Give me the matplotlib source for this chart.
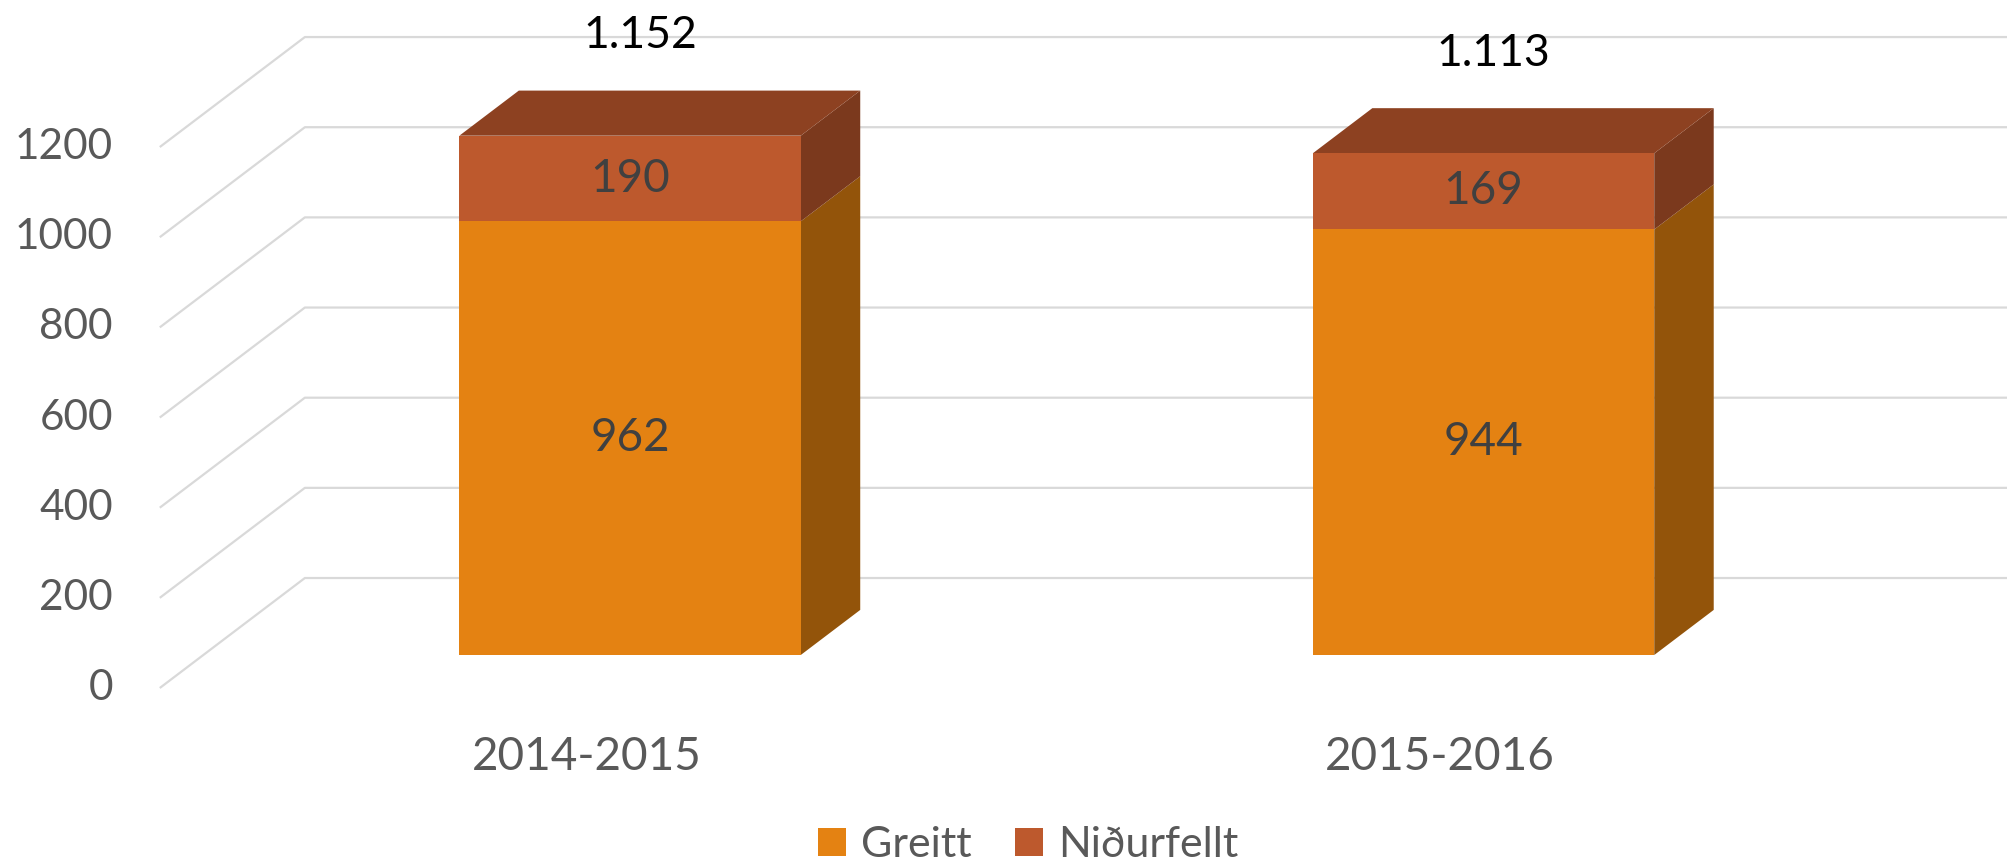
import matplotlib.pyplot as plt
from matplotlib.patches import Polygon, Patch

plt.rcParams['font.family'] = ['Lato', 'DejaVu Sans']

# data
categories = ["2014-2015", "2015-2016"]
greitt = [962, 944]
nidurfellt = [190, 169]
series_names = ["Greitt", "Niðurfellt"]
yticks = [0, 200, 400, 600, 800, 1000, 1200]

# colours: front, side, top
front_cols = ["#E48212", "#BD592D"]
side_cols = ["#93540A", "#7B391D"]
top_cols = ["#E48212", "#8D4121"]

# fake 3d projection (depth 0 = front, 1 = back wall)
DX = 0.17     # category units
DY = 244.0    # value units
d0, d1 = 0.30, 0.71
w = 0.40

def proj(x, v, d):
    return (x + d * DX, v + d * DY)

fig = plt.figure(figsize=(20.08, 8.65), dpi=100)
ax = fig.add_axes([0, 0, 1, 1])
ax.set_xlim(-0.6872, 1.6655)
ax.set_ylim(-392.6, 1526.2)
ax.axis('off')

# walls / gridlines
xl, xr = -0.5, 1.5
for v in yticks:
    p_front = proj(xl, v, 0)
    p_back = proj(xl, v, 1)
    p_right = proj(xr + 0.2, v, 1)
    ax.plot([p_front[0], p_back[0], p_right[0]], [p_front[1], p_back[1], p_right[1]],
            color="#D9D9D9", lw=1.6, zorder=1, solid_capstyle='butt')
    ax.text(-0.555, v, str(v), ha='right', va='center', fontsize=30.5, color="#595959")

def box(c, b, t, k, top):
    xa, xb = c - w / 2, c + w / 2
    front = [proj(xa, b, d0), proj(xb, b, d0), proj(xb, t, d0), proj(xa, t, d0)]
    side = [proj(xb, b, d0), proj(xb, b, d1), proj(xb, t, d1), proj(xb, t, d0)]
    ax.add_patch(Polygon(side, closed=True, fc=side_cols[k], ec='none', zorder=3))
    if top:
        tp = [proj(xa, t, d0), proj(xb, t, d0), proj(xb, t, d1), proj(xa, t, d1)]
        ax.add_patch(Polygon(tp, closed=True, fc=top_cols[k], ec='none', zorder=3))
    ax.add_patch(Polygon(front, closed=True, fc=front_cols[k], ec='none', zorder=4))
    cx, cy = proj(c, (b + t) / 2, d0)
    ax.text(cx, cy, str(t - b), ha='center', va='center', fontsize=33,
            color="#404040", zorder=5)

for i, cat in enumerate(categories):
    g, n = greitt[i], nidurfellt[i]
    box(i, 0, g, 0, False)
    box(i, g, g + n, 1, True)
    total = g + n
    lx, ly = proj(i, total, d0)
    ax.text(lx + 0.012, ly + 222, f"{total:,}".replace(",", "."), ha='center',
            va='center', fontsize=32, color="black", zorder=5)
    ax.text(i, -153, cat, ha='center', va='center', fontsize=33, color="#595959")

handles = [Patch(fc=front_cols[k], ec='none') for k in range(2)]
fig.legend(handles, series_names, loc='center', bbox_to_anchor=(1028 / 2008, 1 - 845 / 865),
           ncol=2, frameon=False, fontsize=31, labelcolor="#595959",
           handlelength=0.65, handleheight=0.65, handletextpad=0.35, columnspacing=1.0)

fig.savefig("out.png", dpi=100)
